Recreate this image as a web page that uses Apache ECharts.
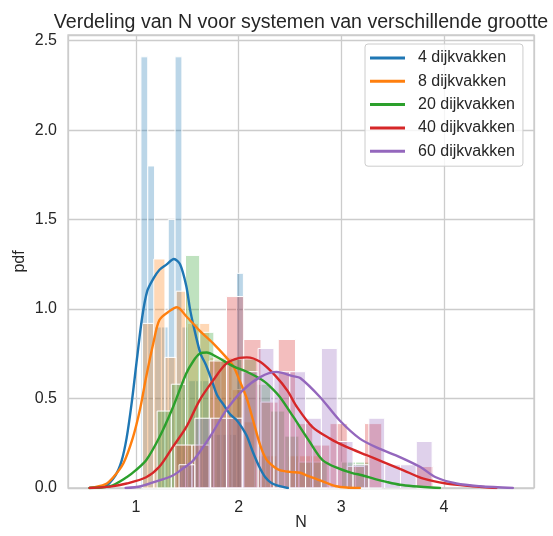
<!DOCTYPE html>
<html>
<head>
<meta charset="utf-8">
<script src="https://cdn.jsdelivr.net/npm/echarts@6/dist/echarts.min.js"></script>
<style>
html,body{margin:0;padding:0;background:#fff;}
#chart{width:553px;height:536px;}
</style>
</head>
<body>
<div id="chart"></div>
<script>
// ---- data ----
const seriesNames = ['4 dijkvakken', '8 dijkvakken', '20 dijkvakken', '40 dijkvakken', '60 dijkvakken'];
const xTicks = [1, 2, 3, 4];
const yTicks = [0, 0.5, 1.0, 1.5, 2.0, 2.5];

// histogram bins (density): start, bin width, heights
const hist4Start = 1.049, hist4Width = 0.0665;
const hist4Heights = [2.41, 1.80, 0.90, 0.90, 1.50, 2.41, 0.90, 0.60, 0.60, 0.60, 0.30, 0.30, 0.30, 0.30, 1.20];
const hist8Start = 1.065, hist8Width = 0.109;
const hist8Heights = [0.92, 1.28, 0.73, 1.10, 0.92, 0.92, 0.73, 0.73, 0.55, 0.37, 0.18, 0.18, 0, 0.18, 0.18, 0.18];
const hist20Start = 1.207, hist20Width = 0.138;
const hist20Heights = [0.43, 0.58, 1.30, 0.87, 0.72, 0.72, 0.72, 0.58, 0.43, 0.29, 0.145, 0.145, 0, 0.145, 0.145];
const hist40Start = 1.378, hist40Width = 0.168;
const hist40Heights = [0.24, 0.24, 0.71, 1.07, 0.83, 0.48, 0.83, 0.36, 0.24, 0.36, 0.12, 0.36, 0, 0, 0.12];
const hist60Start = 1.42, hist60Width = 0.154;
const hist60Heights = [0.13, 0.39, 0.39, 0.39, 0.65, 0.78, 0.65, 0.65, 0.39, 0.78, 0.26, 0.13, 0.39, 0.13, 0.13, 0.26];

// KDE curves
const kde4X = [0.55, 0.70, 0.80, 0.86, 0.91, 0.96, 1.01, 1.06, 1.11, 1.17, 1.23, 1.30, 1.37, 1.43, 1.49, 1.53, 1.58, 1.63, 1.68, 1.74, 1.79, 1.86, 1.92, 1.98, 2.03, 2.08, 2.14, 2.20, 2.26, 2.32, 2.40, 2.48];
const kde4Y = [0, 0.01, 0.07, 0.15, 0.28, 0.48, 0.72, 0.95, 1.10, 1.17, 1.22, 1.25, 1.28, 1.25, 1.13, 0.99, 0.86, 0.75, 0.69, 0.60, 0.52, 0.46, 0.41, 0.38, 0.34, 0.29, 0.20, 0.12, 0.06, 0.028, 0.01, 0];
const kde8X = [0.55, 0.70, 0.78, 0.88, 0.97, 1.04, 1.10, 1.17, 1.23, 1.33, 1.40, 1.49, 1.62, 1.75, 1.88, 1.95, 2.01, 2.08, 2.14, 2.21, 2.27, 2.34, 2.40, 2.50, 2.60, 2.66, 2.76, 2.85, 2.95, 3.05, 3.18];
const kde8Y = [0, 0.02, 0.06, 0.14, 0.28, 0.44, 0.62, 0.81, 0.94, 0.99, 1.01, 0.96, 0.88, 0.81, 0.73, 0.68, 0.60, 0.50, 0.38, 0.24, 0.16, 0.12, 0.10, 0.09, 0.085, 0.071, 0.05, 0.03, 0.01, 0.003, 0];
const kde20X = [0.55, 0.75, 0.91, 1.00, 1.10, 1.23, 1.36, 1.49, 1.56, 1.62, 1.69, 1.78, 1.95, 2.08, 2.24, 2.32, 2.40, 2.53, 2.69, 2.82, 2.98, 3.10, 3.21, 3.33, 3.44, 3.57, 3.70, 3.96];
const kde20Y = [0, 0.01, 0.06, 0.10, 0.155, 0.285, 0.45, 0.64, 0.71, 0.75, 0.757, 0.735, 0.68, 0.65, 0.60, 0.56, 0.51, 0.40, 0.26, 0.155, 0.108, 0.085, 0.07, 0.05, 0.034, 0.018, 0.01, 0];
const kde40X = [0.55, 0.75, 0.91, 1.10, 1.23, 1.36, 1.49, 1.62, 1.75, 1.88, 2.01, 2.08, 2.21, 2.37, 2.48, 2.56, 2.72, 2.89, 3.05, 3.25, 3.41, 3.60, 3.80, 4.02, 4.28, 4.51];
const kde40Y = [0, 0.008, 0.025, 0.06, 0.12, 0.23, 0.34, 0.49, 0.60, 0.695, 0.727, 0.73, 0.705, 0.62, 0.54, 0.46, 0.34, 0.276, 0.23, 0.183, 0.145, 0.10, 0.052, 0.025, 0.01, 0];
const kde60X = [0.90, 1.05, 1.23, 1.36, 1.46, 1.56, 1.72, 1.88, 2.04, 2.21, 2.37, 2.53, 2.60, 2.79, 2.98, 3.18, 3.37, 3.57, 3.77, 3.92, 4.12, 4.35, 4.67];
const kde60Y = [0, 0.01, 0.043, 0.07, 0.11, 0.155, 0.285, 0.435, 0.546, 0.62, 0.649, 0.625, 0.615, 0.51, 0.38, 0.276, 0.22, 0.173, 0.117, 0.06, 0.025, 0.01, 0];

const colors = ['#1f77b4', '#ff7f0e', '#2ca02c', '#d62728', '#9467bd'];
const fills = ['rgba(31,119,180,0.3)', 'rgba(255,127,14,0.3)', 'rgba(44,160,44,0.3)', 'rgba(214,39,40,0.3)', 'rgba(148,103,189,0.3)'];

// ---- build ----
const hists = [
  [hist4Start, hist4Width, hist4Heights],
  [hist8Start, hist8Width, hist8Heights],
  [hist20Start, hist20Width, hist20Heights],
  [hist40Start, hist40Width, hist40Heights],
  [hist60Start, hist60Width, hist60Heights]
];
const kdes = [[kde4X, kde4Y], [kde8X, kde8Y], [kde20X, kde20Y], [kde40X, kde40Y], [kde60X, kde60Y]];

const FONT = "'Liberation Sans', Arial, sans-serif";
const TXT = '#262626';
const GRID = '#cccccc';

const series = [];
hists.forEach(function (h, si) {
  const data = [];
  h[2].forEach(function (v, i) {
    if (v > 0) data.push([h[0] + i * h[1], h[0] + (i + 1) * h[1], v]);
  });
  series.push({
    type: 'custom',
    name: 'hist ' + seriesNames[si],
    z: 2,
    silent: true,
    encode: { x: [0, 1], y: 2 },
    data: data,
    renderItem: function (params, api) {
      const p0 = api.coord([api.value(0), api.value(2)]);
      const p1 = api.coord([api.value(1), 0]);
      return {
        type: 'rect',
        shape: { x: p0[0], y: p0[1], width: p1[0] - p0[0], height: p1[1] - p0[1] },
        style: { fill: fills[si], stroke: '#ffffff', lineWidth: 1 }
      };
    }
  });
});
kdes.forEach(function (k, si) {
  series.push({
    type: 'line',
    name: seriesNames[si],
    z: 3,
    data: k[0].map(function (x, i) { return [x, k[1][i]]; }),
    smooth: 0.3,
    showSymbol: false,
    symbol: 'none',
    lineStyle: { color: colors[si], width: 2.4, cap: 'round', join: 'round' },
    itemStyle: { color: colors[si] },
    silent: true
  });
});

const chart = echarts.init(document.getElementById('chart'), null, { renderer: 'canvas' });
chart.setOption({
  animation: false,
  backgroundColor: '#ffffff',
  textStyle: { fontFamily: FONT },
  title: {
    text: 'Verdeling van N voor systemen van verschillende grootte',
    left: 296,
    textAlign: 'center',
    top: 8,
    textStyle: { fontFamily: FONT, fontSize: 19.6, fontWeight: 'normal', color: TXT }
  },
  grid: {
    left: 68, right: 19, top: 35, bottom: 48,
    containLabel: false,
    outerBoundsMode: 'none',
    show: true, borderColor: GRID, borderWidth: 1.3, backgroundColor: 'transparent'
  },
  legend: {
    data: seriesNames,
    orient: 'vertical',
    left: 365,
    top: 44,
    padding: [6, 8, 7, 5],
    itemGap: 7.3,
    itemWidth: 35,
    itemHeight: 3,
    icon: 'rect',
    backgroundColor: 'rgba(255,255,255,0.8)',
    borderColor: GRID,
    borderWidth: 1,
    borderRadius: 3,
    textStyle: { fontFamily: FONT, fontSize: 16, color: TXT, padding: [0, 0, 0, 8] }
  },
  xAxis: {
    type: 'value',
    min: 0.339,
    max: 4.876,
    minInterval: 1,
    maxInterval: 1,
    name: 'N',
    nameLocation: 'middle',
    nameGap: 27,
    nameMoveOverlap: false,
    nameTextStyle: { fontFamily: FONT, fontSize: 16, color: TXT },
    axisLine: { show: false },
    axisTick: { show: false },
    splitLine: { show: true, lineStyle: { color: GRID, width: 1.3 } },
    axisLabel: {
      fontFamily: FONT, fontSize: 16, color: TXT, margin: 12,
      showMinLabel: false, showMaxLabel: false,
      formatter: function (v) { return xTicks.indexOf(v) >= 0 ? String(v) : ''; }
    }
  },
  yAxis: {
    type: 'value',
    min: 0,
    max: 2.532,
    interval: 0.5,
    name: 'pdf',
    nameLocation: 'middle',
    nameGap: 40,
    nameMoveOverlap: false,
    nameTextStyle: { fontFamily: FONT, fontSize: 16, color: TXT },
    axisLine: { show: false },
    axisTick: { show: false },
    splitLine: { show: true, lineStyle: { color: GRID, width: 1.3 } },
    axisLabel: {
      fontFamily: FONT, fontSize: 16, color: TXT, margin: 11,
      showMaxLabel: false,
      formatter: function (v) {
        for (let i = 0; i < yTicks.length; i++) { if (Math.abs(yTicks[i] - v) < 1e-9) return yTicks[i].toFixed(1); }
        return '';
      }
    }
  },
  series: series
});
</script>
</body>
</html>
